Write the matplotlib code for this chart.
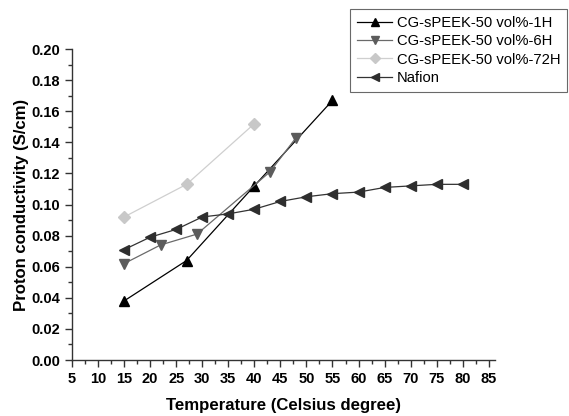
import matplotlib
matplotlib.use("Agg")
import matplotlib.pyplot as plt
from matplotlib.ticker import MultipleLocator

plt.rcParams['font.family'] = ['Liberation Sans', 'DejaVu Sans']

# data
t_1h = [15, 27, 40, 55]
s_1h = [0.038, 0.064, 0.112, 0.167]

t_6h = [15, 22, 29, 43, 48]
s_6h = [0.062, 0.074, 0.081, 0.121, 0.143]

t_72h = [15, 27, 40]
s_72h = [0.092, 0.113, 0.152]

t_naf = [15, 20, 25, 30, 35, 40, 45, 50, 55, 60, 65, 70, 75, 80]
s_naf = [0.071, 0.079, 0.084, 0.092, 0.094, 0.097, 0.102, 0.105,
         0.107, 0.108, 0.111, 0.112, 0.113, 0.113]

fig = plt.figure(figsize=(5.69, 4.16), dpi=100)
ax = fig.add_axes([0.1265, 0.1346, 0.7435, 0.7474])

ax.plot(t_1h, s_1h, color='black', lw=0.9, marker='^', ms=7,
        mfc='black', mec='black', label='CG-sPEEK-50 vol%-1H')
ax.plot(t_6h, s_6h, color='#6a6a6a', lw=0.9, marker='v', ms=7,
        mfc='#5c5c5c', mec='#5c5c5c', label='CG-sPEEK-50 vol%-6H')
ax.plot(t_72h, s_72h, color='#cfcfcf', lw=0.9, marker='D', ms=6,
        mfc='#c8c8c8', mec='#c8c8c8', label='CG-sPEEK-50 vol%-72H')
ax.plot(t_naf, s_naf, color='#333333', lw=0.9, marker='<', ms=7,
        mfc='#2e2e2e', mec='#2e2e2e', label='Nafion')

ax.set_xlim(5, 86.2)
ax.set_ylim(0, 0.2)
ax.xaxis.set_major_locator(MultipleLocator(5))
ax.xaxis.set_minor_locator(MultipleLocator(2.5))
ax.yaxis.set_major_locator(MultipleLocator(0.02))
ax.yaxis.set_minor_locator(MultipleLocator(0.01))
ax.set_xticks(range(5, 90, 5))

for side in ['top', 'right']:
    ax.spines[side].set_visible(False)
for side in ['left', 'bottom']:
    ax.spines[side].set_color('#333333')
    ax.spines[side].set_linewidth(1.0)

ax.tick_params(which='major', direction='out', length=5, width=1, color='#333333')
ax.tick_params(which='minor', direction='out', length=3, width=1, color='#333333')
ax.tick_params(labelsize=10.5)
for lab in ax.get_xticklabels() + ax.get_yticklabels():
    lab.set_fontweight('bold')
ax.set_yticklabels(['%.2f' % v for v in ax.get_yticks()], fontweight='bold')

ax.set_xlabel('Temperature (Celsius degree)', fontsize=12.1, fontweight='bold', labelpad=9)
ax.set_ylabel('Proton conductivity (S/cm)', fontsize=12.1, fontweight='bold', labelpad=2)

leg = fig.legend(loc='upper right', bbox_to_anchor=(0.9965, 0.978), fontsize=10.6,
                 frameon=True, fancybox=False, edgecolor='#444444',
                 handlelength=2.4, handletextpad=0.3, borderpad=0.45,
                 labelspacing=0.3, markerscale=0.8, borderaxespad=0)
leg.get_frame().set_linewidth(0.8)

fig.savefig('out.png', dpi=100)
